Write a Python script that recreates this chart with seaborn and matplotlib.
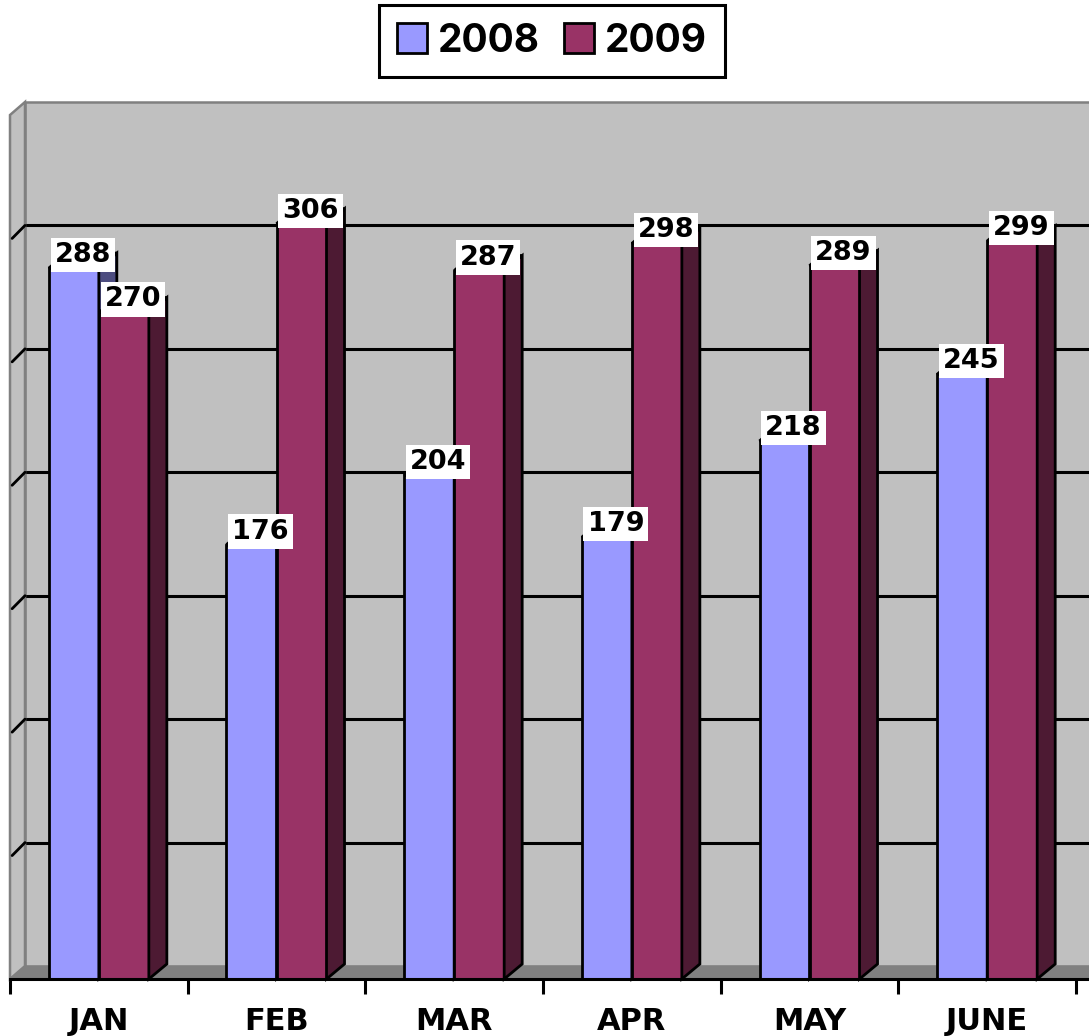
import matplotlib
matplotlib.use('Agg')
import matplotlib.pyplot as plt
import seaborn as sns
import pandas as pd
import numpy as np
from matplotlib.patches import Polygon, Patch
from matplotlib.lines import Line2D
from matplotlib import font_manager as fm

# ---- data ----
months = ['JAN', 'FEB', 'MAR', 'APR', 'MAY', 'JUNE']
years = ['2008', '2009']
values_2008 = [288, 176, 204, 179, 218, 245]
values_2009 = [270, 306, 287, 298, 289, 299]
grid_values = [50, 100, 150, 200, 250, 300]
y_max = 350

front_colors = ['#9999FF', '#993366']
side_colors = ['#4D4D80', '#4D1A33']
top_colors = ['#9999FF', '#993366']

df = pd.DataFrame({
    'month': months * 2,
    'year': [years[0]] * len(months) + [years[1]] * len(months),
    'value': values_2008 + values_2009,
})

sns.set_theme(style='white')
plt.rcParams['font.family'] = ['DejaVu Sans']
plt.rcParams['text.color'] = 'black'

W, H, DPI = 1089, 1036, 100
fig = plt.figure(figsize=(W / DPI, H / DPI), dpi=DPI)
left_px, right_px, base_px, top_px = 10, 1089, 979, 115
ax = fig.add_axes([left_px / W, (H - base_px) / H, (right_px - left_px) / W, (base_px - top_px) / H])
step_px = 177.67
xmax = -0.5 + (right_px - left_px) / step_px
ypx = (base_px - top_px) / y_max

# depth offsets (data units)
wdx, wdy = 15 / step_px, 13 / ypx
bdx, bdy = 18 / step_px, 15 / ypx
LW = 2.0

sns.barplot(data=df, x='month', y='value', hue='year', palette=front_colors,
            saturation=1, width=0.563, gap=0, edgecolor='black', linewidth=LW,
            legend=False, ax=ax, errorbar=None, zorder=3)

ax.set_xlim(-0.5, xmax)
ax.set_ylim(0, y_max)
ax.patch.set_visible(False)

# bars 3D faces & labels
bars = list(ax.patches)
n = len(months)
for k, bar in enumerate(bars):
    j = k // n
    x0 = bar.get_x()
    x1 = x0 + bar.get_width()
    h = bar.get_height()
    zo = 3 + j
    bar.set_zorder(zo)
    bar.set_joinstyle('miter')
    side = Polygon([(x1, 0), (x1, h), (x1 + bdx, h + bdy), (x1 + bdx, bdy)], closed=True,
                   facecolor=side_colors[j], edgecolor='black', lw=LW, zorder=zo, clip_on=False)
    top = Polygon([(x0, h), (x1, h), (x1 + bdx, h + bdy), (x0 + bdx, h + bdy)], closed=True,
                  facecolor=top_colors[j], edgecolor='black', lw=LW, zorder=zo, clip_on=False)
    ax.add_patch(side)
    ax.add_patch(top)
    ax.annotate(f'{int(round(h))}', xy=((x0 + x1) / 2, h), xytext=(9, 13),
                textcoords='offset pixels', ha='center', va='center',
                fontsize=19.5, fontweight='bold', color='black', zorder=8,
                bbox=dict(boxstyle='square,pad=0.15', fc='white', ec='none'),
                annotation_clip=False)

# walls and floor
xr = xmax + 1
back = Polygon([(-0.5 + wdx, wdy), (xr, wdy), (xr, y_max + wdy), (-0.5 + wdx, y_max + wdy)],
               closed=True, facecolor='#C0C0C0', edgecolor='#808080', lw=1.8, zorder=0.5, clip_on=False)
ax.add_patch(back)
floor = Polygon([(-0.5, 0), (xr, 0), (xr, wdy), (-0.5 + wdx, wdy)], closed=True,
                facecolor='#808080', edgecolor='#808080', lw=1, zorder=1, clip_on=False)
ax.add_patch(floor)
lwall = Polygon([(-0.5, 0), (-0.5, y_max), (-0.5 + wdx, y_max + wdy), (-0.5 + wdx, wdy)], closed=True,
                facecolor='#C0C0C0', edgecolor='#808080', lw=1.8, zorder=1, clip_on=False)
ax.add_patch(lwall)
for v in grid_values:
    ax.add_line(Line2D([-0.5 + wdx, xr], [v + wdy, v + wdy], color='black', lw=2.2, zorder=0.8, clip_on=False))
    ax.add_line(Line2D([-0.5 + 0.012, -0.5 + wdx], [v, v + wdy], color='black', lw=2.0, zorder=1.5, clip_on=False))

# axes styling
ax.set_xlabel('')
ax.set_ylabel('')
ax.set_yticks([])
for s in ['left', 'top', 'right']:
    ax.spines[s].set_visible(False)
ax.spines['bottom'].set_color('black')
ax.spines['bottom'].set_linewidth(2.2)
ax.spines['bottom'].set_zorder(7)
ax.set_xticks(range(n))
ax.set_xticklabels(months, fontsize=22, fontweight='bold', color='black')
ax.set_xticks(np.arange(-0.5, n, 1), minor=True)
ax.tick_params(axis='x', which='major', length=0, pad=20)
ax.tick_params(axis='x', which='minor', length=10.5, width=2.2, color='black', direction='out', bottom=True)

# legend
legend_font = fm.FontProperties(family=['Inter', 'Liberation Sans'], weight='bold', size=28)
handles = [Patch(facecolor=c, edgecolor='black', lw=2) for c in front_colors]
leg = fig.legend(handles, years, loc='center', bbox_to_anchor=(552 / W, 1 - 41 / H), ncol=2,
                 prop=legend_font,
                 frameon=True, fancybox=False, edgecolor='black', framealpha=1,
                 handlelength=0.78, handleheight=0.78, handletextpad=0.28,
                 columnspacing=0.62, borderpad=0.46, labelcolor='black')
leg.get_frame().set_linewidth(2.2)

fig.savefig('out.png', dpi=DPI)
